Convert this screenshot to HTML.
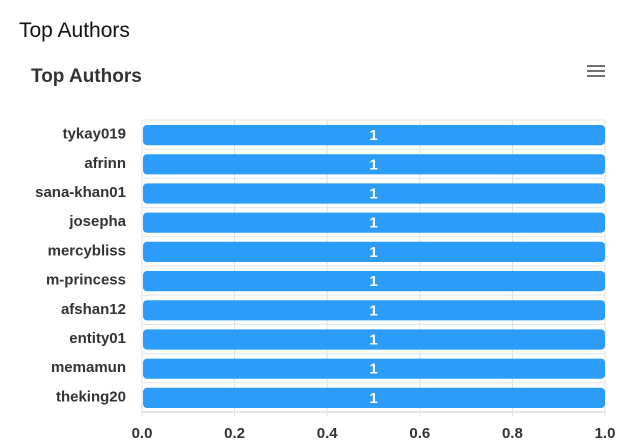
<!DOCTYPE html>
<html><head><meta charset="utf-8"><style>
body{margin:0;width:640px;height:448px;background:#fff;font-family:"Liberation Sans",Arial,sans-serif;overflow:hidden}
</style></head><body>
<div style="position:absolute;left:19px;top:19px;font-size:21px;color:#111">Top Authors</div>
<svg width="640" height="448" style="position:absolute;left:0;top:0">
<text x="31" y="82" font-size="19" font-weight="bold" fill="#333" font-family="Liberation Sans, sans-serif">Top Authors</text>
<g stroke="#6e7079" stroke-width="2">
<line x1="587" y1="66" x2="605" y2="66"/><line x1="587" y1="71" x2="605" y2="71"/><line x1="587" y1="76" x2="605" y2="76"/></g>
<g id="grid"></g><g id="bars"></g><g id="axis"></g>
</svg>
<script>
const categories=["tykay019","afrinn","sana-khan01","josepha","mercybliss","m-princess","afshan12","entity01","memamun","theking20"];
const values=[1,1,1,1,1,1,1,1,1,1];
const ticks=[0,0.2,0.4,0.6,0.8,1.0];
const x0=142,x1=605,y0=120,y1=412,xmax=1;
const xs=v=>x0+(x1-x0)*v/xmax;
const band=(y1-y0)/categories.length;
const NS="http://www.w3.org/2000/svg";
function mk(t,a,p){const e=document.createElementNS(NS,t);for(const k in a)e.setAttribute(k,a[k]);p.appendChild(e);return e;}
const g=document.getElementById('grid'),b=document.getElementById('bars'),ax=document.getElementById('axis');
ticks.forEach(t=>{
const l=mk('line',{x1:xs(t),x2:xs(t),y1:y0,y2:y1+4,stroke:'#e0e0e0'},g);


const tx=mk('text',{x:xs(t),y:438,'text-anchor':'middle','font-size':15,'font-weight':'bold',fill:'#333'},ax);
tx.textContent=t.toFixed(1);


});
for(let i=0;i<=categories.length;i++){
const l=mk('line',{x1:x0,x2:x1,y1:y0+i*band,y2:y0+i*band,stroke:'#e6e6e6','stroke-width':i==categories.length?2:1},g);


}
categories.forEach((c,i)=>{
const yt=y0+i*band;
const r=mk('rect',{x:x0+1,y:yt+5,width:xs(values[i])-x0-1,height:band-9,rx:4,fill:'#2b9cf8'},b);


const v=mk('text',{x:(x0+xs(values[i]))/2,y:yt+band/2+5.5,'text-anchor':'middle','font-size':15,'font-weight':'bold',fill:'#fff'},b);
v.textContent=values[i];


const lb=mk('text',{x:126,y:yt+band/2+4,'text-anchor':'end','font-size':15,'font-weight':'bold',fill:'#333'},ax);
lb.textContent=c;


});
</script>
</body></html>
